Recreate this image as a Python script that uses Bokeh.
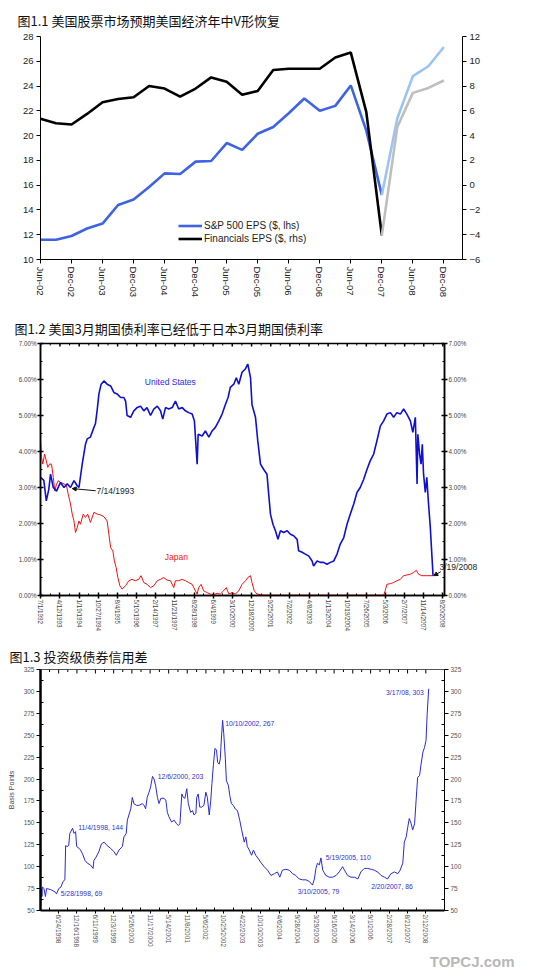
from datetime import date
from bokeh.plotting import figure
from bokeh.layouts import column
from bokeh.models import (LinearAxis, Range1d, FixedTicker, Legend, LegendItem,
                          Label, Arrow, NormalHead, Title)
from bokeh.embed import file_html
from bokeh.resources import INLINE

FONT = "Liberation Sans"
CJK = "Noto Sans CJK SC"

# ---------------- Chart 1 data ----------------
title1 = "图1.1 美国股票市场预期美国经济年中V形恢复"
quarters = ["Jun-02", "Sep-02", "Dec-02", "Mar-03", "Jun-03", "Sep-03", "Dec-03",
            "Mar-04", "Jun-04", "Sep-04", "Dec-04", "Mar-05", "Jun-05", "Sep-05",
            "Dec-05", "Mar-06", "Jun-06", "Sep-06", "Dec-06", "Mar-07", "Jun-07",
            "Sep-07", "Dec-07", "Mar-08", "Jun-08", "Sep-08", "Dec-08"]
sp500_eps = [11.6, 11.6, 11.9, 12.5, 12.9, 14.4, 14.85, 15.85, 16.95, 16.9, 17.9,
             17.95, 19.4, 18.85, 20.15, 20.7, 21.8, 23.0, 22.0, 22.4, 24.05, 20.4,
             15.2, 21.4, 24.8, 25.6, 27.15]
fin_eps = [5.36, 5.0, 4.9, 5.75, 6.7, 6.95, 7.1, 8.0, 7.8, 7.15, 7.8, 8.7, 8.35,
           7.3, 7.6, 9.3, 9.4, 9.4, 9.4, 10.3, 10.7, 5.9, -4.05, 4.7, 7.45, 7.85, 8.45]
last_actual = "Dec-07"
legend1 = ["S&P 500 EPS ($, lhs)", "Financials EPS ($, rhs)"]
lhs_ticks = [10, 12, 14, 16, 18, 20, 22, 24, 26, 28]
rhs_ticks = [-6, -4, -2, 0, 2, 4, 6, 8, 10, 12]

# ---------------- Chart 2 data ----------------
title2 = "图1.2 美国3月期国债利率已经低于日本3月期国债利率"
x2_labels = ["7/1/1992", "4/12/1993", "1/19/1994", "10/27/1994", "8/4/1995",
             "5/10/1996", "2/14/1997", "11/21/1997", "8/28/1998", "6/4/1999",
             "3/10/2000", "12/18/2000", "9/25/2001", "7/2/2002", "4/8/2003",
             "1/13/2004", "10/19/2004", "7/26/2005", "5/3/2006", "2/7/2007",
             "11/14/2007", "8/20/2008"]
y2_ticks = [0, 1, 2, 3, 4, 5, 6, 7]
y2_labels = ["0.00%", "1.00%", "2.00%", "3.00%", "4.00%", "5.00%", "6.00%", "7.00%"]
us_year = [1992.50, 1992.63, 1992.73, 1992.83, 1992.90, 1993.01, 1993.14, 1993.30, 1993.44, 1993.57,
           1993.70, 1993.84, 1993.97, 1994.04, 1994.17, 1994.30, 1994.37, 1994.50, 1994.64, 1994.70,
           1994.77, 1994.84, 1994.93, 1995.04, 1995.17, 1995.31, 1995.44, 1995.57, 1995.71, 1995.84,
           1995.91, 1995.97, 1996.11, 1996.24, 1996.37, 1996.51, 1996.64, 1996.77, 1996.91, 1997.04,
           1997.18, 1997.31, 1997.40, 1997.51, 1997.64, 1997.78, 1997.91, 1998.04, 1998.18, 1998.31,
           1998.44, 1998.58, 1998.67, 1998.78, 1998.82, 1998.98, 1999.11, 1999.25, 1999.38, 1999.51,
           1999.65, 1999.78, 1999.91, 2000.02, 2000.11, 2000.25, 2000.35, 2000.45, 2000.58, 2000.72,
           2000.81, 2000.92, 2000.98, 2001.12, 2001.21, 2001.32, 2001.45, 2001.58, 2001.65, 2001.72,
           2001.82, 2001.92, 2002.02, 2002.12, 2002.25, 2002.39, 2002.52, 2002.65, 2002.79, 2002.85,
           2002.99, 2003.12, 2003.25, 2003.39, 2003.45, 2003.59, 2003.72, 2003.85, 2003.99, 2004.12,
           2004.26, 2004.39, 2004.52, 2004.66, 2004.79, 2004.92, 2005.06, 2005.19, 2005.32, 2005.46,
           2005.59, 2005.72, 2005.86, 2005.99, 2006.13, 2006.26, 2006.39, 2006.53, 2006.66, 2006.79,
           2006.93, 2007.06, 2007.19, 2007.33, 2007.43, 2007.53, 2007.60, 2007.63, 2007.70, 2007.76,
           2007.81, 2007.86, 2007.93, 2007.99, 2008.06, 2008.13, 2008.20, 2008.24]
us_rate = [3.28, 3.20, 2.63, 2.95, 3.37, 3.00, 2.90, 3.14, 3.00, 3.10,
           3.00, 3.19, 3.05, 3.00, 3.65, 4.20, 4.35, 4.40, 4.67, 4.77,
           5.15, 5.60, 5.87, 5.96, 5.87, 5.82, 5.64, 5.60, 5.50, 5.50,
           5.40, 5.00, 4.95, 5.13, 5.22, 5.26, 5.13, 5.22, 5.00, 5.18,
           5.26, 5.13, 4.90, 5.22, 5.18, 5.22, 5.40, 5.18, 5.22, 5.13,
           5.08, 5.04, 4.85, 3.65, 4.48, 4.43, 4.57, 4.40, 4.57, 4.67,
           4.85, 5.04, 5.30, 5.50, 5.78, 5.87, 6.05, 5.87, 6.20, 6.30,
           6.43, 6.05, 5.30, 4.95, 4.30, 3.65, 3.50, 3.37, 2.81, 2.26,
           1.98, 1.80, 1.56, 1.80, 1.75, 1.80, 1.70, 1.66, 1.56, 1.24,
           1.20, 1.15, 1.10, 0.96, 0.82, 0.96, 0.92, 0.92, 0.87, 0.92,
           0.96, 1.15, 1.43, 1.61, 1.98, 2.26, 2.54, 2.86, 3.00, 3.23,
           3.50, 3.74, 3.93, 4.30, 4.71, 4.85, 5.04, 5.08, 4.95, 5.08,
           5.04, 5.18, 5.04, 4.85, 4.53, 4.95, 3.10, 4.48, 3.93, 3.65,
           4.20, 3.37, 2.86, 3.28, 2.54, 1.90, 1.05, 0.55]
jp_year = [1992.50, 1992.54, 1992.59, 1992.66, 1992.73, 1992.79, 1992.86, 1992.94, 1993.01, 1993.07,
           1993.14, 1993.21, 1993.30, 1993.44, 1993.54, 1993.61, 1993.70, 1993.77, 1993.84, 1993.90,
           1993.97, 1994.04, 1994.10, 1994.21, 1994.30, 1994.39, 1994.50, 1994.64, 1994.77, 1994.90,
           1995.04, 1995.17, 1995.24, 1995.31, 1995.40, 1995.46, 1995.53, 1995.60, 1995.68, 1995.77,
           1995.91, 1996.04, 1996.17, 1996.30, 1996.44, 1996.53, 1996.64, 1996.77, 1996.91, 1997.04,
           1997.18, 1997.31, 1997.44, 1997.57, 1997.71, 1997.84, 1997.91, 1998.04, 1998.18, 1998.31,
           1998.44, 1998.58, 1998.71, 1998.78, 1998.84, 1998.94, 1999.04, 1999.18, 1999.31, 1999.44,
           1999.58, 1999.71, 1999.84, 1999.95, 2000.05, 2000.18, 2000.31, 2000.45, 2000.58, 2000.72,
           2000.81, 2000.92, 2000.98, 2001.07, 2001.18, 2001.45, 2003.45, 2006.26, 2006.32, 2006.39,
           2006.53, 2006.66, 2006.79, 2006.93, 2007.06, 2007.19, 2007.33, 2007.46, 2007.57, 2007.66,
           2007.79, 2007.99, 2008.24]
jp_rate = [4.30, 3.83, 3.65, 3.93, 3.74, 3.56, 3.65, 3.65, 3.28, 2.91,
           3.09, 3.19, 3.14, 3.10, 3.05, 2.81, 2.54, 2.26, 2.07, 1.75,
           1.89, 2.07, 1.98, 2.26, 2.17, 2.26, 2.03, 2.31, 2.26, 2.24,
           2.19, 2.07, 1.70, 1.33, 1.24, 0.96, 0.78, 0.50, 0.27, 0.18,
           0.27, 0.41, 0.45, 0.41, 0.45, 0.55, 0.36, 0.31, 0.22, 0.27,
           0.41, 0.45, 0.50, 0.43, 0.41, 0.22, 0.41, 0.41, 0.45, 0.41,
           0.36, 0.31, 0.13, 0.04, 0.22, 0.31, 0.13, 0.08, 0.04, 0.02,
           0.06, 0.04, 0.13, 0.22, 0.04, 0.08, 0.04, 0.13, 0.31, 0.41,
           0.50, 0.55, 0.36, 0.13, 0.04, 0.01, 0.01, 0.01, 0.13, 0.31,
           0.33, 0.36, 0.41, 0.45, 0.55, 0.57, 0.59, 0.64, 0.70, 0.59,
           0.55, 0.55, 0.55]
# (text, x, y, colour) ; arrows: (x_start, y_start, x_end, y_end)
notes2 = [("United States", 1996.68, 5.94, "#2b2bf0"), ("Japan", 1997.48, 1.07, "#e82020"),
          ("7/14/1993", 1994.74, 2.89, "#222222")]
edge_note2 = ("3/19/2008", 0.78)
arrows2 = [(1994.71, 2.91, 1993.77, 2.97), (2008.55, 0.66, 2008.27, 0.55)]

# ---------------- Chart 3 data ----------------
title3 = "图1.3 投资级债券信用差"
x3_labels = ["12/31/1997", "6/24/1998", "12/16/1998", "6/11/1999", "12/3/1999",
             "5/26/2000", "11/17/2000", "5/14/2001", "11/8/2001", "5/6/2002",
             "10/25/2002", "4/22/2003", "10/10/2003", "4/6/2004", "9/28/2004",
             "3/29/2005", "9/16/2005", "3/14/2006", "9/1/2006", "2/28/2007",
             "8/21/2007", "2/12/2008"]
y3_ticks = [50, 75, 100, 125, 150, 175, 200, 225, 250, 275, 300, 325]
sp_year = [1998.00, 1998.02, 1998.04, 1998.05, 1998.09, 1998.13, 1998.16, 1998.26, 1998.39, 1998.42,
           1998.48, 1998.54, 1998.59, 1998.64, 1998.66, 1998.70, 1998.74, 1998.77, 1998.82, 1998.84,
           1998.88, 1998.92, 1998.95, 1999.01, 1999.05, 1999.10, 1999.17, 1999.23, 1999.31, 1999.38,
           1999.40, 1999.46, 1999.53, 1999.60, 1999.67, 1999.75, 1999.84, 1999.93, 1999.99, 2000.06,
           2000.15, 2000.19, 2000.25, 2000.28, 2000.32, 2000.37, 2000.41, 2000.45, 2000.52, 2000.59,
           2000.67, 2000.72, 2000.76, 2000.80, 2000.85, 2000.89, 2000.94, 2000.98, 2001.02, 2001.07,
           2001.11, 2001.16, 2001.24, 2001.29, 2001.33, 2001.37, 2001.44, 2001.51, 2001.57, 2001.62,
           2001.66, 2001.71, 2001.75, 2001.79, 2001.84, 2001.88, 2001.94, 2001.99, 2002.03, 2002.08,
           2002.10, 2002.14, 2002.18, 2002.23, 2002.29, 2002.34, 2002.38, 2002.43, 2002.47, 2002.50,
           2002.54, 2002.58, 2002.62, 2002.65, 2002.69, 2002.72, 2002.74, 2002.78, 2002.81, 2002.85,
           2002.88, 2002.93, 2002.97, 2003.01, 2003.06, 2003.11, 2003.17, 2003.23, 2003.28, 2003.35,
           2003.39, 2003.43, 2003.48, 2003.54, 2003.59, 2003.65, 2003.72, 2003.78, 2003.87, 2003.96,
           2004.05, 2004.14, 2004.22, 2004.28, 2004.35, 2004.44, 2004.53, 2004.62, 2004.70, 2004.79,
           2004.88, 2004.97, 2005.06, 2005.14, 2005.19, 2005.23, 2005.27, 2005.32, 2005.36, 2005.41,
           2005.49, 2005.58, 2005.67, 2005.76, 2005.84, 2005.93, 2005.98, 2006.06, 2006.15, 2006.24,
           2006.33, 2006.41, 2006.50, 2006.59, 2006.68, 2006.76, 2006.85, 2006.94, 2007.03, 2007.11,
           2007.20, 2007.29, 2007.38, 2007.44, 2007.51, 2007.55, 2007.60, 2007.64, 2007.68, 2007.73,
           2007.77, 2007.82, 2007.86, 2007.90, 2007.95, 2007.99, 2008.04, 2008.08, 2008.12, 2008.15,
           2008.19]
spread_bp = [54, 75, 66, 77, 75, 66, 75, 74, 71, 69,
             75, 77, 83, 85, 124, 123, 124, 138, 142, 144,
             138, 140, 123, 121, 119, 115, 107, 104, 102, 98,
             107, 111, 117, 126, 128, 124, 121, 117, 113, 119,
             123, 134, 138, 153, 159, 166, 179, 172, 170, 170,
             172, 170, 166, 179, 185, 191, 203, 200, 193, 179,
             172, 178, 178, 176, 162, 157, 151, 153, 149, 147,
             149, 183, 179, 178, 189, 172, 162, 164, 159, 161,
             179, 183, 168, 168, 170, 185, 179, 159, 176, 195,
             217, 235, 233, 219, 217, 223, 240, 267, 252, 225,
             198, 193, 181, 172, 170, 166, 164, 153, 142, 128,
             134, 123, 119, 113, 119, 113, 109, 105, 100, 96,
             90, 92, 94, 88, 96, 97, 96, 92, 90, 86,
             85, 85, 83, 79, 86, 98, 104, 102, 110, 96,
             90, 88, 88, 90, 94, 100, 96, 90, 88, 88,
             86, 94, 98, 98, 97, 96, 94, 90, 88, 86,
             92, 94, 92, 96, 104, 128, 134, 145, 155, 149,
             142, 149, 176, 202, 204, 217, 231, 236, 244, 274,
             303]
notes3 = [("5/28/1998, 69", 1998.53, 69.4), ("11/4/1998, 144", 1998.99, 144.2),
          ("12/6/2000, 203", 2001.08, 203.0), ("10/10/2002, 267", 2002.85, 263.0),
          ("3/10/2005, 79", 2004.75, 71.3), ("5/19/2005, 110", 2005.49, 110.0),
          ("2/20/2007, 86", 2006.68, 77.7), ("3/17/08, 303", 2007.07, 298.4)]
watermark = "TOPCJ.com"


def dec_year(s):
    m, d, y = (int(v) for v in s.split("/"))
    days = 366 if (y % 4 == 0) else 365
    return y + (date(y, m, d) - date(y, 1, 1)).days / days


def mids(ticks):
    return [(a + b) / 2 for a, b in zip(ticks[:-1], ticks[1:])]


def style_axis(ax, size, color="#222222"):
    ax.axis_line_color = "black"
    ax.major_tick_line_color = "black"
    ax.minor_tick_line_color = "black"
    ax.major_label_text_font = FONT
    ax.major_label_text_font_size = size
    ax.major_label_text_color = color


def set_title(p, text, offset, standoff):
    p.title.text = text
    p.title.text_font = CJK
    p.title.text_font_size = "13px"
    p.title.text_font_style = "normal"
    p.title.text_color = "#111111"
    p.title.align = "left"
    p.title.offset = offset
    p.title.standoff = standoff


def top_ticks(p, ticks, top, length, width):
    p.segment(x0=ticks, y0=[top] * len(ticks), x1=ticks, y1=[top - length] * len(ticks),
              line_color="black", line_width=width)


# ================= Figure 1 =================
xq = list(range(len(quarters)))
k = quarters.index(last_actual)
p1 = figure(frame_width=422, frame_height=223, x_range=Range1d(0, 27.2), y_range=Range1d(10, 28),
            output_backend="svg", toolbar_location=None,
            min_border_left=32, min_border_right=34, min_border_top=36, min_border_bottom=36)
set_title(p1, title1, -23, 13)
p1.extra_y_ranges = {"rhs": Range1d(rhs_ticks[0], rhs_ticks[-1])}
p1.outline_line_color = None
p1.grid.visible = False
r_sp = p1.line(xq[:k + 1], sp500_eps[:k + 1], line_color="#3e63e3", line_width=2.6)
p1.line(xq[k:], sp500_eps[k:], line_color="#9cc3f3", line_width=2.6)
r_fin = p1.line(xq[:k + 1], fin_eps[:k + 1], y_range_name="rhs", line_color="black", line_width=2.6)
p1.line(xq[k:], fin_eps[k:], y_range_name="rhs", line_color="#bebebe", line_width=2.6)

xt = xq[::2]
bx1 = p1.below[0]
ly1 = p1.left[0]
bx1.ticker = FixedTicker(ticks=xt)
bx1.major_label_overrides = {i: quarters[i] for i in xt}
bx1.major_label_orientation = "vertical"
ly1.ticker = FixedTicker(ticks=lhs_ticks)
ax_r1 = LinearAxis(y_range_name="rhs", ticker=FixedTicker(ticks=rhs_ticks))
p1.add_layout(ax_r1, "right")
for ax in [bx1, ly1, ax_r1]:
    style_axis(ax, "9.5px")
    ax.major_tick_out = 4
    ax.major_tick_in = 0
    ax.minor_tick_line_color = None
    ax.major_label_standoff = 3

leg = Legend(items=[LegendItem(label=legend1[0], renderers=[r_sp]),
                    LegendItem(label=legend1[1], renderers=[r_fin])],
             location=(138, 14), border_line_color=None, background_fill_alpha=0,
             label_text_font=FONT, label_text_font_size="10px", label_text_color="#222222",
             glyph_width=24, glyph_height=13, label_height=13, label_standoff=2,
             padding=0, spacing=0, margin=0)
p1.add_layout(leg)

# ================= Figure 2 =================
x2t = [dec_year(s) for s in x2_labels]
p2 = figure(frame_width=404, frame_height=252, x_range=Range1d(x2t[0], 2008.70), y_range=Range1d(0, 7),
            output_backend="svg", toolbar_location=None,
            min_border_left=35, min_border_right=55, min_border_top=43, min_border_bottom=30)
set_title(p2, title2, -26, 12)
p2.outline_line_color = "black"
p2.outline_line_width = 1.5
p2.grid.visible = False
p2.line(jp_year, jp_rate, line_color="#ee1111", line_width=1)
p2.line(us_year, us_rate, line_color="#1010d0", line_width=1.6)
top_ticks(p2, x2t, 7, 3 * 7 / 252, 1.5)
top_ticks(p2, mids(x2t), 7, 2 * 7 / 252, 1)

xtick2 = FixedTicker(ticks=x2t, minor_ticks=mids(x2t))
ytick2 = FixedTicker(ticks=y2_ticks, minor_ticks=mids(y2_ticks))
bx2 = p2.below[0]
ly2 = p2.left[0]
bx2.ticker = xtick2
bx2.major_label_overrides = {x2t[i]: x2_labels[i] for i in range(len(x2t))}
bx2.major_label_orientation = "vertical"
ly2.ticker = ytick2
ly2.major_label_overrides = {y2_ticks[i]: y2_labels[i] for i in range(len(y2_ticks))}
ax_r2 = LinearAxis(ticker=ytick2, major_label_overrides=ly2.major_label_overrides)
p2.add_layout(ax_r2, "right")
for ax in [bx2, ly2, ax_r2]:
    style_axis(ax, "6.3px", "#444444")
    ax.axis_line_width = 1.5
    ax.major_tick_line_width = 1.5
    ax.major_tick_out = 3
    ax.major_tick_in = 3
    ax.minor_tick_out = 0
    ax.minor_tick_in = 2
    ax.major_label_standoff = 1
# annotation that runs over the right edge of the frame, drawn as an axis label
ax_n2 = LinearAxis(ticker=FixedTicker(ticks=[edge_note2[1]]),
                   major_label_overrides={edge_note2[1]: edge_note2[0]},
                   axis_line_color=None, major_tick_line_color=None, minor_tick_line_color=None,
                   major_tick_in=0, major_tick_out=0, major_label_standoff=-30,
                   major_label_text_font=FONT, major_label_text_font_size="8.5px",
                   major_label_text_color="#222222")
p2.add_layout(ax_n2, "right")

for txt, x, y, c in notes2:
    p2.add_layout(Label(x=x, y=y, text=txt, text_font=FONT, text_font_size="8.5px",
                        text_color=c, text_baseline="middle", text_align="left"))
for xs, ys, xe, ye in arrows2:
    p2.add_layout(Arrow(x_start=xs, y_start=ys, x_end=xe, y_end=ye, line_color="#111111",
                        line_width=1, end=NormalHead(size=4, fill_color="#111111",
                                                     line_color="#111111")))

# ================= Figure 3 =================
x3t = [dec_year(s) for s in x3_labels]
p3 = figure(frame_width=404, frame_height=241, x_range=Range1d(1998.0, 2008.605), y_range=Range1d(50, 325),
            output_backend="svg", toolbar_location=None,
            min_border_left=40, min_border_right=72, min_border_top=35, min_border_bottom=30)
set_title(p3, title3, -31, 7)
p3.outline_line_color = "#555555"
p3.grid.visible = False
p3.line(sp_year, spread_bp, line_color="#2a2ad0", line_width=1)
top_ticks(p3, x3t, 325, 4 * 275 / 241, 1)
top_ticks(p3, mids(x3t), 325, 2.5 * 275 / 241, 1)

xtick3 = FixedTicker(ticks=x3t, minor_ticks=mids(x3t))
ytick3 = FixedTicker(ticks=y3_ticks, minor_ticks=mids(y3_ticks))
bx3 = p3.below[0]
ly3 = p3.left[0]
bx3.ticker = xtick3
bx3.major_label_overrides = {x3t[i]: x3_labels[i] for i in range(len(x3t))}
bx3.major_label_orientation = "vertical"
ly3.ticker = ytick3
ly3.axis_label = "Basis Points"
ly3.axis_label_text_font = FONT
ly3.axis_label_text_font_size = "7px"
ly3.axis_label_text_font_style = "normal"
ly3.axis_label_standoff = 6
ax_r3 = LinearAxis(ticker=ytick3)
p3.add_layout(ax_r3, "right")
for ax in [bx3, ly3, ax_r3]:
    style_axis(ax, "6.5px", "#555555")
    ax.major_tick_out = 4
    ax.major_tick_in = 0
    ax.minor_tick_out = 0
    ax.minor_tick_in = 3
    ax.major_label_standoff = 2
ly3.axis_line_width = 2.5
bx3.axis_line_width = 2
bx3.major_tick_out = 3
bx3.major_label_standoff = 1

for txt, x, y in notes3:
    p3.add_layout(Label(x=x, y=y, text=txt, text_font=FONT, text_font_size="6.8px",
                        text_color="#3030c8", text_baseline="middle", text_align="left"))
p3.add_layout(Title(text=watermark, align="right", offset=-70, standoff=0,
                    text_font=FONT, text_font_size="15px", text_font_style="bold",
                    text_color="#b8b8b8"), "below")

layout = column(p1, p2, p3, spacing=0)
open("out.html", "w").write(file_html(layout, INLINE))
